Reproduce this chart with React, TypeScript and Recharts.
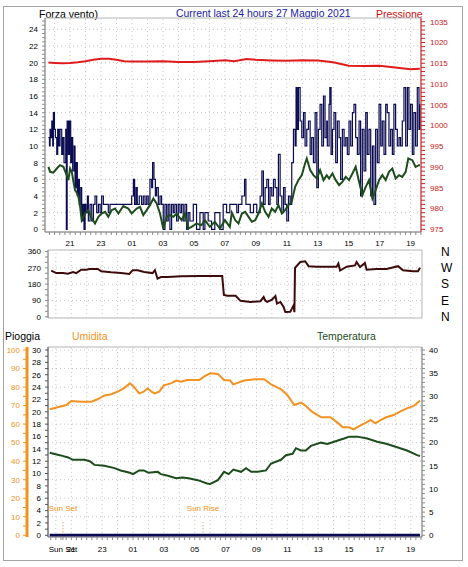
import React from "react";
import {
  LineChart,
  Line,
  XAxis,
  YAxis,
  ReferenceArea,
  ReferenceLine,
} from "recharts";

// [hour, value] ; hours counted from midnight of the previous day (25 = 01:00)
const windGust: [number, number][] = [
  [19.6, 11], [19.67, 10], [19.71, 12], [19.77, 11], [19.82, 13], [19.88, 10], [19.92, 14], [19.99, 12],
  [20.05, 11], [20.14, 9], [20.2, 12], [20.27, 10], [20.35, 12], [20.46, 9], [20.53, 11], [20.61, 8],
  [20.72, 12], [20.76, 0], [20.81, 13], [20.89, 9], [20.96, 13], [21.04, 8], [21.11, 11], [21.17, 7],
  [21.26, 10], [21.32, 5], [21.39, 8], [21.47, 4], [21.54, 6], [21.6, 3], [21.69, 5], [21.75, 1],
  [21.82, 3], [21.9, 0], [21.97, 3], [22.03, 2], [22.12, 4], [22.18, 1], [22.29, 3], [22.4, 1],
  [22.51, 3], [22.61, 4], [22.72, 2], [22.83, 3], [22.94, 2], [23.04, 4], [23.15, 3], [23.37, 3],
  [23.47, 2], [23.58, 3], [24.87, 3], [24.98, 4], [25.09, 6], [25.17, 3], [25.26, 5], [25.34, 3],
  [25.47, 4], [25.62, 3], [25.73, 4], [25.84, 3], [25.95, 4], [26.05, 3], [26.16, 6], [26.27, 5],
  [26.33, 8], [26.42, 6], [26.51, 4], [26.59, 5], [26.7, 3], [26.81, 4], [26.91, 3], [27.02, 0],
  [27.13, 3], [27.24, 1], [27.34, 3], [27.45, 0], [27.56, 3], [27.67, 2], [27.77, 3], [27.88, 1],
  [27.99, 3], [28.1, 2], [28.2, 3], [28.31, 1], [28.42, 3], [28.53, 0], [28.63, 2], [28.74, 1],
  [28.96, 3], [29.17, 0], [29.39, 2], [29.6, 0], [29.71, 2], [29.92, 1], [30.14, 0], [30.35, 2],
  [30.68, 0], [30.89, 3], [31.11, 2], [31.32, 3], [31.45, 3], [31.67, 3], [31.77, 2], [31.88, 3],
  [32.1, 4], [32.27, 6], [32.36, 3], [32.53, 3], [32.64, 2], [32.85, 3], [33.06, 2], [33.28, 4],
  [33.39, 7], [33.49, 3], [33.6, 5], [33.71, 6], [33.82, 3], [33.92, 5], [34.03, 4], [34.14, 6],
  [34.25, 5], [34.36, 3], [34.46, 9], [34.57, 4], [34.68, 2], [34.79, 5], [34.89, 3], [35.0, 1],
  [35.11, 4], [35.22, 3], [35.32, 8], [35.43, 12], [35.54, 10], [35.6, 17], [35.67, 12], [35.75, 17],
  [35.86, 13], [35.97, 11], [36.08, 14], [36.18, 10], [36.29, 12], [36.4, 13], [36.51, 9], [36.61, 11],
  [36.72, 8], [36.83, 14], [36.94, 5], [37.04, 12], [37.15, 15], [37.26, 10], [37.37, 16], [37.47, 11],
  [37.58, 13], [37.62, 10], [37.73, 15], [37.78, 17], [37.86, 9], [37.95, 12], [38.05, 14], [38.16, 8],
  [38.27, 13], [38.38, 11], [38.48, 6], [38.59, 12], [38.7, 10], [38.81, 11], [38.91, 9], [39.02, 13],
  [39.13, 10], [39.24, 14], [39.34, 15], [39.45, 11], [39.56, 9], [39.67, 13], [39.77, 4], [39.88, 12],
  [39.99, 7], [40.1, 14], [40.2, 9], [40.31, 12], [40.42, 4], [40.53, 10], [40.63, 3], [40.74, 12],
  [40.85, 8], [40.96, 15], [41.07, 10], [41.17, 13], [41.28, 9], [41.39, 15], [41.49, 14], [41.6, 10],
  [41.71, 12], [41.82, 9], [41.92, 15], [42.03, 12], [42.14, 10], [42.25, 11], [42.35, 10], [42.46, 13],
  [42.57, 17], [42.68, 10], [42.79, 17], [42.89, 12], [43.0, 15], [43.11, 9], [43.21, 14], [43.32, 10],
  [43.43, 17], [43.54, 12], [43.6, 15],
];

const windAvg: [number, number][] = [
  [19.6, 7.5], [19.71, 6.9], [19.92, 6.8], [20.14, 7.3], [20.35, 7.7], [20.57, 7.5], [20.78, 6.5],
  [20.89, 5.9], [21.0, 7.3], [21.11, 6.9], [21.22, 5.7], [21.32, 4.7], [21.43, 4.4], [21.54, 3.9],
  [21.65, 2.7], [21.75, 1.1], [21.86, 1.5], [21.97, 1.9], [22.18, 2.3], [22.4, 1.3], [22.61, 0.7],
  [22.83, 1.5], [23.04, 1.9], [23.26, 2.1], [23.47, 1.5], [23.69, 2.3], [23.9, 2.5], [24.12, 1.9],
  [24.44, 2.8], [24.76, 2.5], [24.98, 1.9], [25.3, 2.5], [25.52, 2.7], [25.73, 1.7], [25.95, 2.3],
  [26.16, 2.9], [26.38, 3.7], [26.59, 3.1], [26.81, 1.9], [27.02, 0.1], [27.24, 1.5], [27.45, 1.7],
  [27.67, 1.5], [27.88, 1.9], [28.2, 1.1], [28.42, 1.9], [28.63, 0.1], [28.85, 0.3], [29.17, 0.7],
  [29.49, 0.5], [29.71, 1.1], [30.03, 0.3], [30.35, 0.9], [30.68, 0.1], [31.0, 1.1], [31.32, 0.3],
  [31.45, 2.0], [31.67, 1.1], [31.88, 0.7], [32.1, 1.9], [32.31, 2.1], [32.53, 1.5], [32.74, 0.9],
  [32.96, 1.1], [33.17, 1.9], [33.39, 3.1], [33.6, 2.1], [33.82, 1.5], [34.03, 2.5], [34.25, 2.1],
  [34.46, 2.9], [34.68, 1.9], [34.89, 2.3], [35.11, 2.9], [35.32, 3.3], [35.54, 5.1], [35.75, 5.9],
  [35.97, 6.5], [36.18, 7.9], [36.29, 8.5], [36.51, 7.1], [36.72, 6.5], [36.94, 6.1], [37.15, 7.1],
  [37.37, 5.9], [37.58, 6.5], [37.73, 6.1], [37.95, 6.7], [38.16, 5.9], [38.38, 5.3], [38.59, 5.7],
  [38.81, 6.3], [39.02, 5.9], [39.24, 6.7], [39.45, 7.5], [39.67, 5.7], [39.88, 4.1], [40.1, 5.1],
  [40.31, 5.9], [40.53, 3.7], [40.74, 4.7], [40.96, 5.9], [41.17, 6.5], [41.39, 5.9], [41.6, 6.9],
  [41.82, 7.3], [42.03, 6.1], [42.25, 6.5], [42.46, 6.3], [42.68, 6.9], [42.85, 8.5], [43.11, 8.3],
  [43.32, 7.5], [43.54, 7.7], [43.6, 7.7],
];

const pressure: [number, number][] = [
  [19.6, 1015.17], [20.0, 1015.08], [20.5, 1015.0], [21.0, 1015.08], [21.5, 1015.25], [22.0, 1015.5],
  [22.5, 1015.83], [23.0, 1016.08], [23.5, 1016.08], [24.0, 1015.83], [24.5, 1015.5], [25.0, 1015.42],
  [26.0, 1015.42], [27.0, 1015.5], [28.0, 1015.33], [29.0, 1015.33], [30.0, 1015.5], [31.0, 1015.75],
  [31.6, 1015.5], [32.4, 1016.0], [33.0, 1015.83], [34.0, 1015.67], [35.0, 1015.58], [36.0, 1015.75],
  [37.0, 1015.67], [38.0, 1015.25], [38.5, 1014.83], [39.0, 1014.42], [40.0, 1014.33], [41.0, 1014.42],
  [42.0, 1014.0], [43.0, 1013.58], [43.6, 1013.67],
];

const direction: [number, number][] = [
  [19.7, 255], [20.03, 241], [20.46, 241], [20.78, 238], [21.11, 247], [21.32, 241], [21.65, 260],
  [21.97, 260], [22.18, 264], [22.72, 264], [22.94, 251], [23.58, 245], [24.23, 241], [24.76, 236],
  [24.98, 257], [25.3, 257], [25.73, 247], [26.27, 241], [26.42, 257], [26.59, 210], [26.81, 219],
  [27.24, 219], [28.1, 223], [29.39, 225], [30.78, 225], [30.89, 120], [31.11, 116], [31.65, 116],
  [31.97, 88], [32.61, 82], [33.26, 86], [33.47, 109], [33.58, 88], [33.69, 82], [34.01, 95],
  [34.23, 114], [34.33, 73], [34.55, 82], [34.76, 54], [34.87, 26], [35.19, 28], [35.3, 45],
  [35.41, 64], [35.46, 25], [35.5, 270], [35.84, 302], [36.16, 306], [36.38, 279], [36.91, 276],
  [37.77, 276], [38.2, 276], [38.31, 294], [38.42, 255], [38.85, 276], [39.39, 283], [39.49, 302],
  [39.71, 274], [40.03, 296], [40.14, 260], [40.78, 264], [41.43, 264], [42.18, 279], [42.5, 257],
  [43.15, 251], [43.47, 251], [43.6, 270],
];

const humidity: [number, number][] = [
  [19.6, 68.0], [20.25, 69.4], [20.68, 70.3], [21.0, 72.5], [21.65, 72.1], [22.3, 72.1], [22.7, 73.4],
  [23.15, 75.5], [23.6, 76.1], [24.1, 77.9], [24.4, 79.3], [24.8, 82.0], [25.0, 80.6], [25.4, 76.6],
  [25.7, 77.5], [25.95, 79.3], [26.2, 77.5], [26.4, 76.6], [26.7, 77.5], [27.0, 80.9], [27.45, 82.0],
  [27.8, 83.5], [28.1, 82.9], [28.5, 83.8], [29.3, 83.8], [29.6, 85.6], [30.0, 87.4], [30.5, 87.1],
  [30.9, 83.8], [31.3, 83.5], [31.5, 81.5], [31.6, 81.7], [32.2, 83.5], [32.9, 84.2], [33.5, 84.2],
  [33.95, 81.5], [34.6, 78.8], [35.0, 75.7], [35.45, 70.3], [35.9, 71.6], [36.2, 69.8], [36.6, 66.7],
  [37.2, 63.7], [37.8, 63.7], [38.25, 60.8], [38.6, 58.3], [39.0, 58.3], [39.3, 57.2], [39.6, 58.6],
  [40.1, 60.8], [40.4, 62.2], [40.7, 60.4], [41.05, 62.2], [41.4, 63.7], [41.9, 64.9], [42.3, 66.7],
  [42.75, 68.5], [43.2, 69.8], [43.6, 72.7],
];

const temperature: [number, number][] = [
  [19.6, 17.8], [20.25, 17.3], [20.8, 16.8], [21.1, 16.3], [21.85, 16.3], [22.2, 16.0], [22.5, 15.2],
  [23.15, 15.0], [23.8, 14.5], [24.2, 14.0], [24.8, 13.5], [25.0, 13.2], [25.4, 14.0], [25.7, 14.0],
  [26.0, 13.5], [26.6, 13.7], [26.8, 13.2], [27.2, 12.9], [27.8, 12.3], [28.2, 12.5], [28.6, 12.3],
  [29.2, 11.9], [29.8, 11.2], [30.0, 11.1], [30.5, 11.9], [30.9, 13.7], [31.2, 13.2], [31.5, 14.2],
  [32.0, 13.7], [32.33, 14.5], [32.66, 13.7], [33.09, 13.7], [33.62, 14.0], [33.95, 15.5], [34.59, 16.3],
  [34.91, 17.3], [35.34, 17.6], [35.56, 18.8], [35.88, 18.3], [36.2, 18.3], [36.53, 19.3], [37.17, 20.0],
  [37.6, 19.7], [38.03, 20.2], [38.68, 20.9], [39.0, 21.3], [39.54, 21.3], [40.18, 20.9], [40.83, 20.2],
  [41.47, 19.7], [42.12, 19.0], [42.76, 18.3], [43.41, 17.3], [43.6, 17.1],
];

const rain: [number, number][] = [
  [19.6, 0],
  [43.6, 0],
];

const hourLines = [20, 21, 22, 23, 24, 25, 26, 27, 28, 29, 30, 31, 32, 33, 34, 35, 36, 37, 38, 39, 40, 41, 42, 43];
const timeTicks: number[] = [];
for (let m = 1180; m <= 2620; m += 20) timeTicks.push(m / 60);
const sunSet = 20.46;
const sunRise = 29.54;
const bottomTicks = [...timeTicks, sunSet].sort((a, b) => a - b);

const speedTicks: number[] = [];
for (let i = 0; i <= 50; i++) speedTicks.push(i / 2);
const speedGrid = [2, 4, 6, 8, 10, 12, 14, 16, 18, 20, 22, 24];
const pressureTicks: number[] = [];
for (let p = 975; p <= 1025; p++) pressureTicks.push(p);
// the source chart prints its top pressure tick as "1035"
const pressureLabels: Record<number, string> = { 1025: "1035" };
const dirTicks = [0, 30, 60, 90, 120, 150, 180, 210, 240, 270, 300, 330, 360];
const dirGrid = [90, 180, 270];
const compassTicks = [0, 90, 180, 270, 360];
const compassLabels = ["N", "E", "S", "W", "N"];
const rainTicks: number[] = [];
for (let r = 0; r <= 30; r++) rainTicks.push(r);
const humTicks = [0, 5, 10, 15, 20, 25, 30, 35, 40, 45, 50, 55, 60, 65, 70, 75, 80, 85, 90, 95, 100];
const humGrid = [10, 20, 30, 40, 50, 60, 70, 80, 90, 100];
const tempTicks: number[] = [];
for (let c = 0; c <= 40; c++) tempTicks.push(c);

const topX: [number, number] = [19.38, 43.67];
const botX: [number, number] = [19.49, 43.73];
const speedDomain: [number, number] = [-0.32, 25.36];
const pressureDomain: [number, number] = [974.35, 1025.9];
const dirDomain: [number, number] = [-6.7, 368.3];
const rainDomain: [number, number] = [-0.275, 30.49];
const humDomain: [number, number] = [-0.92, 101.62];
const tempDomain: [number, number] = [-0.37, 40.65];

const rows = (pts: [number, number][]) => pts.map(([t, v]) => ({ t, v }));

const timeLabel = (v: number) => {
  if (Math.abs(v - sunSet) < 1e-6) return "Sun Set";
  const h = Math.round(v);
  if (Math.abs(v - h) > 1e-6 || h % 2 === 0) return "";
  return String(h % 24).padStart(2, "0");
};
const every = (n: number) => (v: number) => (Math.abs(v % n) < 1e-6 ? String(v) : "");

const ORANGE = "#f39220";
const GREEN = "#1d4d1d";
const NAVY = "#0b0b52";
const GRID = "#c6c6c6";
const tickText = { fontSize: 8, fill: "#000" };

// axis ids: left axes are stacked by id, "a_rain" ends up next to the plot
const RAIN = "a_rain";
const HUM = "b_hum";
const TEMP = "c_temp";

const vGrid = (axis?: string) =>
  hourLines.map((h) => (
    <ReferenceLine key={`v${h}`} x={h} yAxisId={axis} stroke={GRID} strokeDasharray="1 3" />
  ));
const hGrid = (axis: string, values: number[]) =>
  values.map((v) => (
    <ReferenceLine key={`h${v}`} y={v} yAxisId={axis} stroke={GRID} strokeDasharray="1 3" />
  ));

const label = (text: string, left: number, top: number, color: string, size = 10.5) => (
  <div
    style={{
      position: "absolute",
      left,
      top,
      color,
      fontSize: size,
      lineHeight: "12px",
      whiteSpace: "nowrap",
    }}
  >
    {text}
  </div>
);

export default function App() {
  return (
    <div
      style={{
        position: "absolute",
        left: 0,
        top: 0,
        width: 468,
        height: 567,
        background: "#fff",
        fontFamily: '"Liberation Sans", Arial, sans-serif',
      }}
    >
      <div
        style={{
          position: "absolute",
          left: 3,
          top: 6,
          width: 460,
          height: 555,
          boxSizing: "border-box",
          border: "1px solid #a4a4a4",
        }}
      />
      {label("Forza vento)", 39, 8, "#000")}
      {label("Current last 24 hours 27 Maggio 2021", 176, 8, "#1a1aa6", 10.4)}
      {label("Pressione", 376, 8, "#cc1010")}
      {label("Pioggia", 5, 330, "#000")}
      {label("Umidita", 72, 330, ORANGE)}
      {label("Temperatura", 317, 330, GREEN)}

      <div style={{ position: "absolute", left: 0, top: 0 }}>
        <LineChart width={468} height={250} margin={{ top: 18, right: 0, bottom: 0, left: 0 }}>
          <XAxis
            type="number"
            dataKey="t"
            domain={topX}
            allowDataOverflow
            ticks={timeTicks}
            interval={0}
            tickFormatter={timeLabel}
            tick={tickText}
            tickSize={3}
            tickMargin={5}
            height={18}
            stroke="#8c8c8c"
          />
          <YAxis
            yAxisId="spd"
            domain={speedDomain}
            allowDataOverflow
            ticks={speedTicks}
            interval={0}
            tickFormatter={every(2)}
            tick={tickText}
            tickSize={3}
            tickMargin={4}
            width={45}
            stroke="#8c8c8c"
          />
          <YAxis
            yAxisId="pr"
            orientation="right"
            domain={pressureDomain}
            allowDataOverflow
            ticks={pressureTicks}
            interval={0}
            tickFormatter={(v: number) => pressureLabels[v] ?? every(5)(v)}
            tick={{ fontSize: 8, fill: "#c81818" }}
            tickSize={4}
            tickMargin={5}
            width={47}
            stroke="#d42020"
          />
          {vGrid("spd")}
          {hGrid("spd", speedGrid)}
          <ReferenceArea
            yAxisId="spd"
            x1={topX[0]}
            x2={topX[1]}
            y1={speedDomain[0]}
            y2={speedDomain[1]}
            fill="none"
            stroke="#b4b4b4"
            ifOverflow="visible"
          />
          <Line yAxisId="pr" data={rows(pressure)} dataKey="v" stroke="#e01b1b" strokeWidth={2} dot={false} activeDot={false} isAnimationActive={false} />
          <Line yAxisId="spd" type="stepAfter" data={rows(windGust)} dataKey="v" stroke={NAVY} strokeWidth={1.2} dot={false} activeDot={false} isAnimationActive={false} />
          <Line yAxisId="spd" data={rows(windAvg)} dataKey="v" stroke={GREEN} strokeWidth={2} dot={false} activeDot={false} isAnimationActive={false} />
        </LineChart>
      </div>

      <div style={{ position: "absolute", left: 0, top: 244 }}>
        <LineChart width={468} height={80} margin={{ top: 6, right: 0, bottom: 6, left: 0 }}>
          <XAxis type="number" dataKey="t" domain={botX} allowDataOverflow hide />
          <YAxis
            yAxisId="dir"
            domain={dirDomain}
            allowDataOverflow
            ticks={dirTicks}
            interval={0}
            tickFormatter={every(90)}
            tick={tickText}
            tickSize={3}
            tickMargin={4}
            width={48}
            stroke="#8c8c8c"
          />
          <YAxis
            yAxisId="compass"
            orientation="right"
            domain={dirDomain}
            allowDataOverflow
            ticks={compassTicks}
            interval={0}
            tickFormatter={(v: number) => compassLabels[compassTicks.indexOf(v)] ?? ""}
            tick={{ fontSize: 12, fill: "#000" }}
            axisLine={false}
            tickLine={false}
            tickSize={6}
            tickMargin={13}
            width={46}
          />
          {vGrid("dir")}
          {hGrid("dir", dirGrid)}
          <ReferenceArea
            yAxisId="dir"
            x1={botX[0]}
            x2={botX[1]}
            y1={dirDomain[0]}
            y2={dirDomain[1]}
            fill="none"
            stroke="#b4b4b4"
            ifOverflow="visible"
          />
          <Line yAxisId="dir" data={rows(direction)} dataKey="v" stroke="#3d0b0b" strokeWidth={2} dot={false} activeDot={false} isAnimationActive={false} />
        </LineChart>
      </div>

      <div style={{ position: "absolute", left: 0, top: 340 }}>
        <LineChart width={468} height={217} margin={{ top: 7, right: 0, bottom: 0, left: 0 }}>
          <XAxis
            type="number"
            dataKey="t"
            domain={botX}
            allowDataOverflow
            ticks={bottomTicks}
            interval={0}
            tickFormatter={timeLabel}
            tick={tickText}
            tickSize={3}
            tickMargin={6}
            height={20}
            stroke="#8c8c8c"
          />
          <YAxis
            yAxisId={RAIN}
            domain={rainDomain}
            allowDataOverflow
            ticks={rainTicks}
            interval={0}
            tickFormatter={every(2)}
            tick={tickText}
            tickSize={3}
            tickMargin={4}
            width={21}
            stroke="#555"
          />
          <YAxis
            yAxisId={HUM}
            domain={humDomain}
            allowDataOverflow
            ticks={humTicks}
            interval={0}
            tickFormatter={every(10)}
            tick={{ fontSize: 8, fill: ORANGE }}
            tickSize={4}
            tickMargin={3}
            width={27}
            stroke={ORANGE}
            axisLine={{ stroke: ORANGE, strokeWidth: 3 }}
          />
          <YAxis
            yAxisId={TEMP}
            orientation="right"
            domain={tempDomain}
            allowDataOverflow
            ticks={tempTicks}
            interval={0}
            tickFormatter={every(5)}
            tick={tickText}
            tickSize={3}
            tickMargin={4}
            width={46}
            stroke="#8c8c8c"
          />
          {vGrid(HUM)}
          {hGrid(HUM, humGrid)}
          <ReferenceArea
            yAxisId={HUM}
            x1={botX[0]}
            x2={botX[1]}
            y1={humDomain[0]}
            y2={humDomain[1]}
            fill="none"
            stroke="#b4b4b4"
            ifOverflow="visible"
          />
          <ReferenceLine
            yAxisId={RAIN}
            segment={[{ x: sunSet, y: 0 }, { x: sunSet, y: 2.3 }]}
            stroke="#d0803a"
            strokeDasharray="1 2"
            label={{ value: "Sun Set", position: "top", fill: ORANGE, fontSize: 8, offset: 10 }}
          />
          <ReferenceLine
            yAxisId={RAIN}
            segment={[{ x: sunRise, y: 0 }, { x: sunRise, y: 2.3 }]}
            stroke="#d0803a"
            strokeDasharray="1 2"
            label={{ value: "Sun Rise", position: "top", fill: ORANGE, fontSize: 8, offset: 10 }}
          />
          <Line yAxisId={HUM} data={rows(humidity)} dataKey="v" stroke={ORANGE} strokeWidth={2} dot={false} activeDot={false} isAnimationActive={false} />
          <Line yAxisId={TEMP} data={rows(temperature)} dataKey="v" stroke={GREEN} strokeWidth={2} dot={false} activeDot={false} isAnimationActive={false} />
          <Line yAxisId={RAIN} data={rows(rain)} dataKey="v" stroke={NAVY} strokeWidth={3} dot={false} activeDot={false} isAnimationActive={false} />
        </LineChart>
      </div>
    </div>
  );
}
